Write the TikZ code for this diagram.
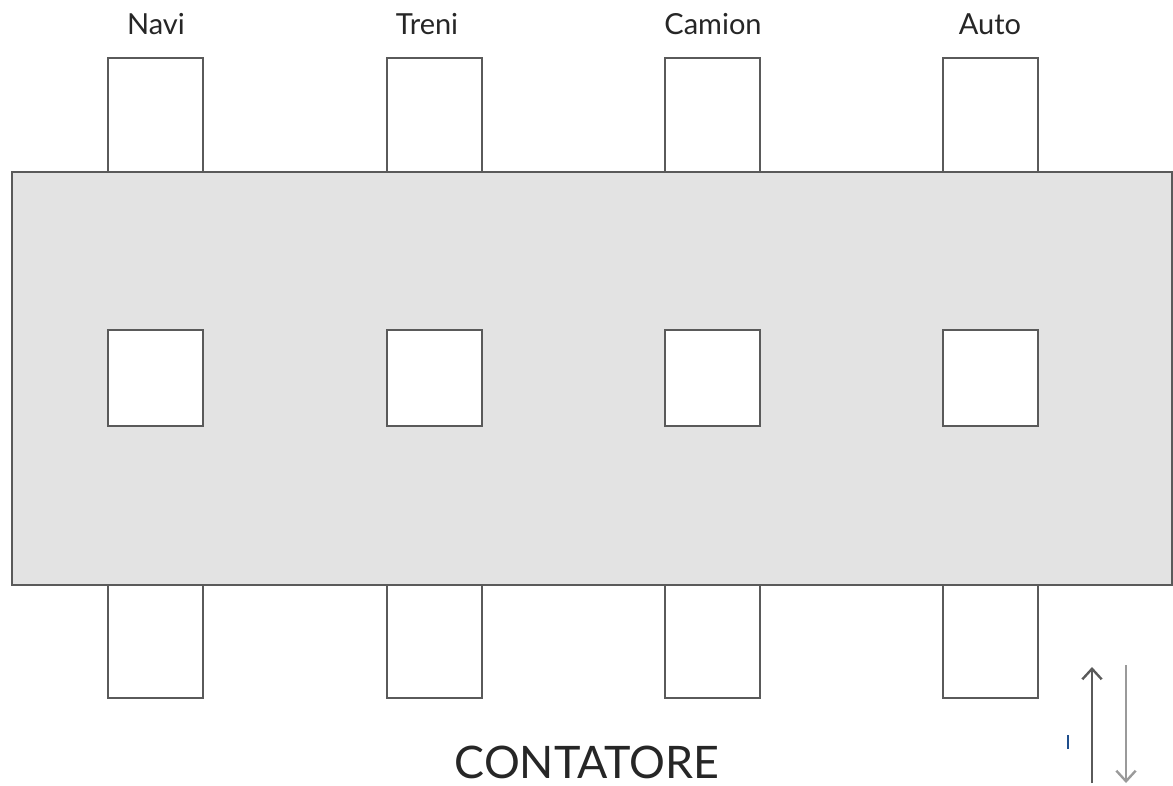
\documentclass[tikz,border=0pt]{standalone}
\usepackage{fontspec}
\setmainfont{Lato}
\usetikzlibrary{arrows.meta}
\definecolor{edge}{HTML}{5A5A5A}
\definecolor{panel}{HTML}{E3E3E3}
\definecolor{marker}{HTML}{1F4E8C}
\definecolor{lightarr}{HTML}{9A9A9A}
\begin{document}
\begin{tikzpicture}[x=0.02cm,y=-0.02cm,
  box/.style={draw=edge,line width=1.1pt,fill=white,inner sep=0pt,outer sep=0pt},
  lbl/.style={font=\fontsize{16.5}{19}\selectfont,text=black!85,inner sep=0pt},
  arr/.style={line width=1.35pt,-{Straight Barb[length=6pt,width=11pt]}}]
\useasboundingbox (0,0) rectangle (1173,785);
\fill[white] (0,0) rectangle (1173,785);
% panel
\node[draw=edge,line width=1.1pt,fill=panel,inner sep=0pt,outer sep=0pt,minimum width=1160*0.02cm,minimum height=413*0.02cm,anchor=north west] (panel) at (12,172) {};
\foreach \n/\x/\lx/\t in {a/155.5/156/Navi,b/434.5/427/Treni,c/712.5/713/Camion,d/990.5/990/Auto}{
  \node[box,minimum width=95*0.02cm,minimum height=114*0.02cm,anchor=south] (top\n) at (\x,172) {};
  \node[box,minimum width=95*0.02cm,minimum height=96*0.02cm] (mid\n) at (\x,378) {};
  \node[box,minimum width=95*0.02cm,minimum height=113*0.02cm,anchor=north] (bot\n) at (\x,585) {};
  \node[lbl] (lbl\n) at (\lx,24) {\t};
}
\node[font=\fontsize{25.5}{30}\selectfont,text=black!85,inner sep=0pt] (title) at (587,762) {CONTATORE};
% arrows
\coordinate (upS) at (1092,783);
\coordinate (upE) at (1092,667);
\coordinate (dnS) at (1126,665);
\coordinate (dnE) at (1126,783);
\draw[arr,draw=edge] (upS) -- (upE);
\draw[arr,draw=lightarr] (dnS) -- (dnE);
\coordinate (mkS) at (1068,735);
\coordinate (mkE) at (1068,749);
\draw[marker,line width=0.9pt] (mkS) -- (mkE);
\end{tikzpicture}
\end{document}
